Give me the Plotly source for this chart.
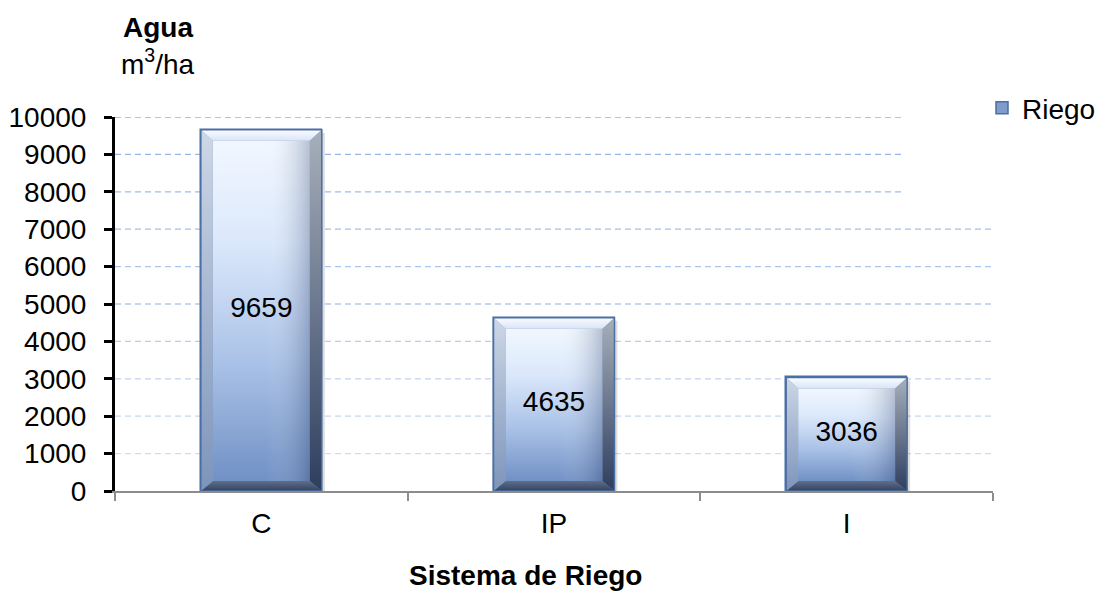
import plotly.graph_objects as go

# ---- data ----
categories = ["C", "IP", "I"]
riego = [9659, 4635, 3036]
y_ticks = list(range(0, 10001, 1000))
series_name = "Riego"

# ---- page geometry (pixels) ----
W, H = 1100, 594
PL, PR, PT, PB = 115, 993, 117, 491
Y_MAX = 10000
px_per_x = (PR - PL) / len(categories)
px_per_y = (PB - PT) / Y_MAX

FONT = "Liberation Sans, Arial, sans-serif"
FS = 28

# bar and bevel sizes converted to data units
BAR_W = 121 / px_per_x
BEV_X = 12 / px_per_x
BEV_TOP = 11 / px_per_y
BEV_BOT = 10 / px_per_y
SHADOW_X = 3 / px_per_x
SHADOW_Y = 3 / px_per_y


def px_to_paper_x(px):
    return (px - PL) / (PR - PL)


def px_to_paper_y(py):
    return (PB - py) / (PB - PT)


def poly(xs, ys, c_bottom, c_top, gtype="vertical", start=None, stop=None):
    grad = dict(type=gtype, colorscale=[[0, c_bottom], [1, c_top]])
    if start is not None:
        grad["start"] = start
        grad["stop"] = stop
    return go.Scatter(
        x=list(xs) + [xs[0]], y=list(ys) + [ys[0]],
        xaxis="x2", yaxis="y", mode="lines", fill="toself",
        line=dict(width=0), fillgradient=grad,
        showlegend=False, hoverinfo="skip",
    )


fig = go.Figure()

# legend holder / base bars on the category axis
fig.add_trace(go.Bar(
    x=categories, y=riego, name=series_name, width=BAR_W,
    marker=dict(color="#7f9ccb", line=dict(color="#4a6fa5", width=1.5)),
    hoverinfo="skip",
))

# bevelled bar faces drawn on a linear overlay axis
for i, v in enumerate(riego):
    x0, x1 = i - BAR_W / 2, i + BAR_W / 2
    ix0, ix1 = x0 + BEV_X, x1 - BEV_X
    top, itop, ibot = v, v - BEV_TOP, BEV_BOT

    # soft drop shadow on the right
    fig.add_trace(go.Scatter(
        x=[x1, x1 + SHADOW_X, x1 + SHADOW_X, x1, x1],
        y=[top - SHADOW_Y, top - SHADOW_Y, 0, 0, top - SHADOW_Y],
        xaxis="x2", mode="lines", fill="toself", line=dict(width=0),
        fillcolor="rgba(0,0,0,0.13)", showlegend=False, hoverinfo="skip",
    ))
    # front face
    fig.add_trace(go.Scatter(
        x=[ix0, ix1, ix1, ix0, ix0], y=[ibot, ibot, itop, itop, ibot],
        xaxis="x2", mode="lines", fill="toself", line=dict(width=0),
        fillgradient=dict(type="vertical", start=ibot, stop=itop,
                          colorscale=[[0, "#7191c5"], [0.35, "#aac2e7"],
                                      [0.7, "#dbe8fb"], [1, "#f1f7ff"]]),
        showlegend=False, hoverinfo="skip",
    ))
    # darker right portion of the face
    fig.add_trace(go.Scatter(
        x=[ix0, ix1, ix1, ix0, ix0], y=[ibot, ibot, itop, itop, ibot],
        xaxis="x2", mode="lines", fill="toself", line=dict(width=0),
        fillgradient=dict(type="horizontal", start=ix0, stop=ix1,
                          colorscale=[[0, "rgba(255,255,255,0)"],
                                      [0.55, "rgba(255,255,255,0)"],
                                      [1, "rgba(30,50,90,0.28)"]]),
        showlegend=False, hoverinfo="skip",
    ))
    # top bevel
    fig.add_trace(poly([x0, x1, ix1, ix0], [top, top, itop, itop],
                       "#d9e4f5", "#fbfdff", start=itop, stop=top))
    # bottom bevel
    fig.add_trace(poly([x0, x1, ix1, ix0], [0, 0, ibot, ibot],
                       "#34435d", "#5e6f8c", start=0, stop=ibot))
    # left bevel
    fig.add_trace(poly([x0, ix0, ix0, x0], [0, ibot, itop, top],
                       "#7d94ba", "#cdd7e6", start=0, stop=top))
    # right bevel
    fig.add_trace(poly([x1, ix1, ix1, x1], [0, ibot, itop, top],
                       "#2d3e5e", "#a7afbb", start=0, stop=top))
    # outline
    fig.add_trace(go.Scatter(
        x=[x0, x1, x1, x0, x0], y=[0, 0, top, top, 0], xaxis="x2",
        mode="lines", line=dict(color="#4a6fa5", width=1.5),
        showlegend=False, hoverinfo="skip",
    ))

# value labels in the middle of each bar
fig.add_trace(go.Scatter(
    x=list(range(len(categories))), y=[v / 2 for v in riego],
    text=[str(v) for v in riego], xaxis="x2", mode="text",
    textfont=dict(family=FONT, size=FS, color="black"),
    showlegend=False, hoverinfo="skip",
))

# dashed gridlines (the upper ones stop short of the legend)
shapes = []
for t in y_ticks[1:]:
    x_end = px_to_paper_x(902) if t >= 8000 else 1.0
    frac = t / Y_MAX
    r = int(214 - 66 * frac)
    g = int(224 - 48 * frac)
    b = int(244 - 16 * frac)
    shapes.append(dict(
        type="line", xref="paper", yref="y", x0=0, x1=x_end, y0=t, y1=t,
        line=dict(color=f"rgb({r},{g},{b})", width=1.3, dash="6px,4px"),
        layer="below",
    ))

annotations = [
    dict(text="<b>Agua</b>", x=px_to_paper_x(158), y=px_to_paper_y(28),
         xref="paper", yref="paper", xanchor="center", yanchor="middle",
         showarrow=False, font=dict(family=FONT, size=FS, color="black")),
    dict(text="m<sup>3</sup>/ha", x=px_to_paper_x(158), y=px_to_paper_y(62),
         xref="paper", yref="paper", xanchor="center", yanchor="middle",
         showarrow=False, font=dict(family=FONT, size=FS, color="black")),
    dict(text="<b>Sistema de Riego</b>", x=px_to_paper_x(525),
         y=px_to_paper_y(593), xref="paper", yref="paper",
         xanchor="center", yanchor="bottom", showarrow=False,
         font=dict(family=FONT, size=FS, color="black")),
]

fig.update_layout(
    width=W, height=H,
    margin=dict(l=PL, r=W - PR, t=PT, b=H - PB, pad=0, autoexpand=False),
    paper_bgcolor="white", plot_bgcolor="white",
    font=dict(family=FONT, size=FS, color="black"),
    bargap=0,
    showlegend=True,
    legend=dict(xref="container", yref="container",
                x=982 / W, y=1 - 108 / H,
                xanchor="left", yanchor="middle",
                font=dict(family=FONT, size=FS, color="black"),
                bgcolor="rgba(0,0,0,0)"),
    xaxis=dict(
        type="category", categoryorder="array", categoryarray=categories,
        range=[-0.5, len(categories) - 0.5], tickson="boundaries",
        showline=True, linecolor="#8c8c8c", linewidth=2,
        ticks="outside", ticklen=8, tickwidth=2, tickcolor="#8c8c8c",
        ticklabelstandoff=6,
        showgrid=False, zeroline=False,
        tickfont=dict(family=FONT, size=FS, color="black"),
    ),
    xaxis2=dict(
        overlaying="x", range=[-0.5, len(categories) - 0.5],
        visible=False, showgrid=False, zeroline=False,
    ),
    yaxis=dict(
        range=[0, Y_MAX], tickvals=y_ticks,
        ticktext=[str(t) for t in y_ticks],
        showline=True, linecolor="black", linewidth=3,
        ticks="outside", ticklen=8, tickwidth=3, tickcolor="black",
        ticklabelstandoff=12,
        showgrid=False, zeroline=False,
        tickfont=dict(family=FONT, size=FS, color="black"),
    ),
    shapes=shapes,
    annotations=annotations,
)

fig.write_html("out.html")
